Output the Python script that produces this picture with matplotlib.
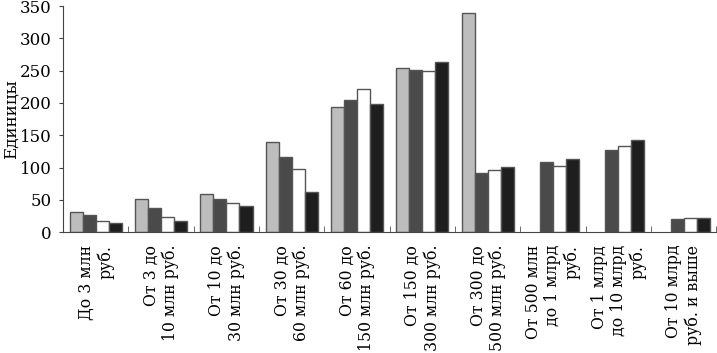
import numpy as np
import matplotlib
matplotlib.use('Agg')
import matplotlib.pyplot as plt

plt.rcParams['font.family'] = ['DejaVu Serif']

# Категории (диапазоны выручки)
categories = [
    'До 3 млн\nруб.',
    'От 3 до\n10 млн руб.',
    'От 10 до\n30 млн руб.',
    'От 30 до\n60 млн руб.',
    'От 60 до\n150 млн руб.',
    'От 150 до\n300 млн руб.',
    'От 300 до\n500 млн руб.',
    'От 500 млн\nдо 1 млрд\nруб.',
    'От 1 млрд\nдо 10 млрд\nруб.',
    'От 10 млрд\nруб. и выше',
]

# Четыре ряда значений (нет значения -> 0)
series_1 = [31, 51, 59, 140, 194, 254, 339, 0, 0, 0]
series_2 = [26, 38, 51, 117, 204, 251, 91, 109, 127, 21]
series_3 = [17, 23, 46, 98, 222, 249, 97, 103, 133, 22]
series_4 = [15, 18, 41, 62, 199, 263, 101, 114, 142, 22]

series = [series_1, series_2, series_3, series_4]
colors = ['#bdbdbd', '#4a4a4a', '#ffffff', '#1e1e1e']

fig = plt.figure(figsize=(7.17, 3.53), dpi=100)
ax = fig.add_axes([0.088, 0.342, 0.911, 0.641])

x = np.arange(len(categories))
width = 0.2
offsets = [-0.3, -0.1, 0.1, 0.3]
for vals, col, off in zip(series, colors, offsets):
    v = np.array(vals, dtype=float)
    mask = v > 0
    ax.bar(x[mask] + off, v[mask], width=width, color=col,
           edgecolor='#555555', linewidth=1.0)

ax.set_xlim(-0.5, len(categories) - 0.5)
ax.set_ylim(0, 350)
ax.set_yticks(np.arange(0, 351, 50))
ax.tick_params(axis='y', labelsize=12, length=3, color='#444444', pad=5)

ax.set_xticks(x)
ax.set_xticklabels(categories, rotation=90, fontsize=11.3, ma='right',
                   va='top', ha='center', linespacing=1.15)
ax.tick_params(axis='x', which='major', length=0, pad=9)
ax.set_xticks(np.arange(-0.5, len(categories), 1.0)[1:], minor=True)
ax.tick_params(axis='x', which='minor', direction='in', length=4,
               color='#555555')

ax.spines['top'].set_visible(False)
ax.spines['right'].set_visible(False)
ax.spines['left'].set_color('#444444')
ax.spines['bottom'].set_color('#444444')

ax.set_ylabel('Единицы', fontsize=12)
ax.yaxis.set_label_coords(-0.066, 0.5)

fig.savefig('out.png', dpi=100)
